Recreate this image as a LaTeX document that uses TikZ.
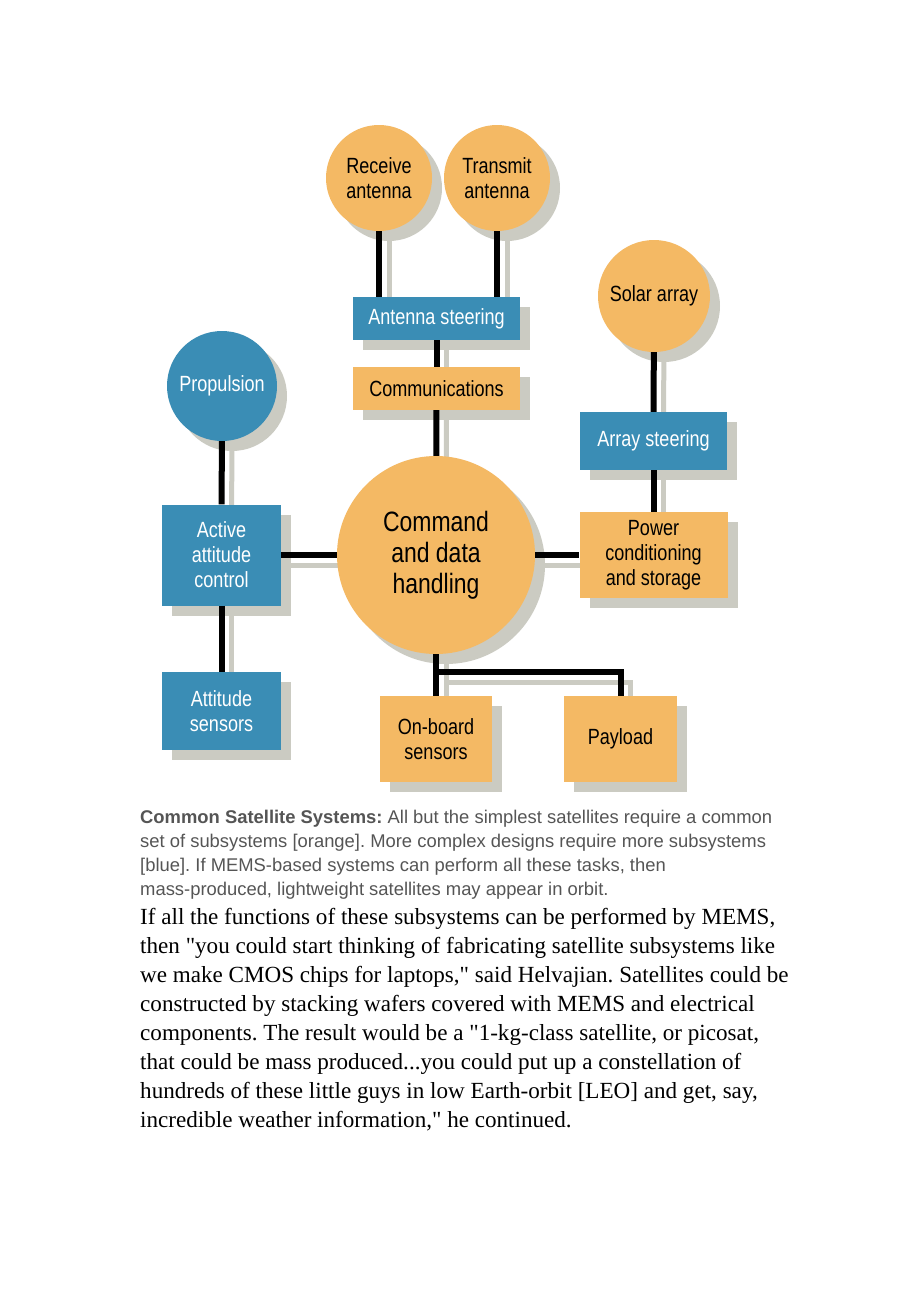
\documentclass[tikz,border=0pt]{standalone}
\usepackage{fontspec}
\usetikzlibrary{shadows,backgrounds}
\newfontfamily\boxfont[FakeStretch=0.82]{Liberation Sans}
\newfontfamily\capfont{Liberation Sans}
\newfontfamily\bodyfont{Liberation Serif}
\definecolor{subor}{HTML}{F4B964}
\definecolor{subbl}{HTML}{3A8DB5}
\definecolor{shadec}{HTML}{CBCBC2}
\definecolor{capgray}{HTML}{555555}
\frenchspacing

\begin{document}
\begin{tikzpicture}[x=1pt, y=-1pt,
    sub/.style={inner sep=0pt, align=center,
      font=\boxfont\fontsize{22}{25}\selectfont,
      drop shadow={shadow xshift=10pt, shadow yshift=-10pt, fill=shadec, opacity=1}},
    osys/.style={sub, fill=subor, text=black},
    bsys/.style={sub, fill=subbl, text=white},
    orb/.style={circle, minimum size=#1},
    blk/.style 2 args={rectangle, minimum width=#1, minimum height=#2},
    wire/.style={line width=6pt, black},
    wireshade/.style={line width=5pt, shadec},
    capline/.style={anchor=base west, inner sep=0pt, text=capgray,
      font=\capfont\fontsize{18.4}{24}\selectfont},
    body/.style={anchor=base west, inner sep=0pt, text=black,
      font=\bodyfont\fontsize{23.1}{29}\selectfont}]
    \useasboundingbox (0,0) rectangle (920,1302);

    % antennas
    \node[osys, orb=106pt] (rx) at (379,178) {Receive\\antenna};
    \node[osys, orb=106pt] (tx) at (497,178) {Transmit\\antenna};
    \node[bsys, blk={167pt}{43pt}] (steer) at (436.5,318.5) {Antenna steering};
    \node[osys, blk={167pt}{43pt}] (comm) at (436.5,388.5) {Communications};
    % power side
    \node[osys, orb=112pt] (solar) at (654,296) {Solar array};
    \node[bsys, blk={147pt}{58pt}] (arr) at (653.5,441) {Array steering};
    \node[osys, blk={148pt}{86pt}] (power) at (653.5,555) {Power\\conditioning\\and storage};
    % attitude side
    \node[bsys, orb=110pt] (prop) at (222,386) {Propulsion};
    \node[bsys, blk={119pt}{101pt}] (aac) at (221.5,555) {Active\\attitude\\control};
    \node[bsys, blk={119pt}{78pt}] (att) at (221.5,711) {Attitude\\sensors};
    % core
    \node[osys, orb=198pt, font=\boxfont\fontsize{28}{31}\selectfont] (cdh) at (436,555)
      {Command\\and data\\handling};
    \node[osys, blk={112pt}{86pt}] (onb) at (436,739) {On-board\\sensors};
    \node[osys, blk={113pt}{86pt}] (pay) at (620.5,739) {Payload};
    \coordinate (fork) at (436,672);

    \begin{scope}[on background layer]
      \fill[white] (0,0) rectangle (920,1302);
      % wire shadows
      \begin{scope}[transform canvas={shift={(10pt,-10pt)}}]
        \draw[wireshade] (rx.south) -- (rx.south |- steer.north);
        \draw[wireshade] (tx.south) -- (tx.south |- steer.north);
        \draw[wireshade] (steer) -- (comm);
        \draw[wireshade] (comm) -- (cdh);
        \draw[wireshade] (solar) -- (arr);
        \draw[wireshade] (arr) -- (power);
        \draw[wireshade] (prop) -- (aac);
        \draw[wireshade] (aac) -- (att);
        \draw[wireshade] (aac) -- (cdh);
        \draw[wireshade] (cdh) -- (power);
        \draw[wireshade] (cdh) -- (onb);
        \draw[wireshade] (fork) -| (pay.north);
      \end{scope}
    \end{scope}
    % wires
    \draw[wire] (rx.south) -- (rx.south |- steer.north);
    \draw[wire] (tx.south) -- (tx.south |- steer.north);
    \draw[wire] (steer) -- (comm);
    \draw[wire] (comm) -- (cdh);
    \draw[wire] (solar) -- (arr);
    \draw[wire] (arr) -- (power);
    \draw[wire] (prop) -- (aac);
    \draw[wire] (aac) -- (att);
    \draw[wire] (aac) -- (cdh);
    \draw[wire] (cdh) -- (power);
    \draw[wire] (cdh) -- (onb);
    \draw[wire] (fork) -| (pay.north);

    % caption
    \node[capline] (c1) at (140,823) {\textbf{Common Satellite Systems:} All but the simplest satellites require a common};
    \node[capline] (c2) at (140,847) {set of subsystems [orange]. More complex designs require more subsystems};
    \node[capline] (c3) at (140,871) {[blue]. If MEMS-based systems can perform all these tasks, then};
    \node[capline] (c4) at (140,895) {mass-produced, lightweight satellites may appear in orbit.};

    % running text
    \node[body] (b1) at (140,924) {If all the functions of these subsystems can be performed by MEMS,};
    \node[body] (b2) at (140,953) {then "you could start thinking of fabricating satellite subsystems like};
    \node[body] (b3) at (140,982) {we make CMOS chips for laptops," said Helvajian. Satellites could be};
    \node[body] (b4) at (140,1011) {constructed by stacking wafers covered with MEMS and electrical};
    \node[body] (b5) at (140,1040) {components. The result would be a "1-kg-class satellite, or picosat,};
    \node[body] (b6) at (140,1069) {that could be mass produced...you could put up a constellation of};
    \node[body] (b7) at (140,1098) {hundreds of these little guys in low Earth-orbit [LEO] and get, say,};
    \node[body] (b8) at (140,1127) {incredible weather information," he continued.};
  \end{tikzpicture}
\end{document}
